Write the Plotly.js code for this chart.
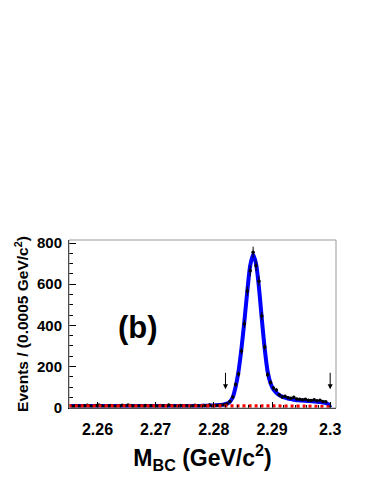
<!DOCTYPE html>
<html>
<head>
<meta charset="utf-8">
<script src="https://cdn.plot.ly/plotly-3.0.1.min.js"></script>
<style>
  html, body { margin: 0; padding: 0; background: #fff; }
  #chart { width: 374px; height: 484px; }
</style>
</head>
<body>
<div id="chart"></div>
<script>
// M_BC spectrum, 0.0005 GeV bins from 2.255 to 2.300
var binLo = 2.255;
var binWidth = 0.0005;

var counts = [
  9, 7, 10, 8, 6, 9, 11, 8, 7, 10,
  12, 9, 7, 8, 10, 8, 6, 9, 11, 8,
  13, 10, 8, 7, 9, 8, 10, 7, 9, 6,
  8, 10, 9, 7, 12, 9, 8, 7, 10, 8,
  9, 7, 8, 11, 9, 8, 10, 9, 12, 8,
  10, 11, 12, 14, 18, 30, 52, 112, 163, 275,
  408, 567, 665, 755, 690, 615, 445, 295, 160, 122,
  95, 85, 62, 52, 55, 48, 45, 50, 42, 40,
  38, 40, 36, 35, 38, 33, 36, 30, 28, 3
];

// total fit (signal + background), at bin centres
var fitTotal = [
  8, 8, 8, 8, 8, 8, 8, 8, 8, 8,
  8, 8, 8, 8, 8, 8, 8, 8, 8, 8,
  8, 8, 8, 8, 8, 8, 8, 8, 8, 8,
  8, 8, 8, 8, 8, 8, 8, 8, 8, 8,
  8, 8, 8, 8, 8, 8, 9, 9, 10, 10,
  11, 12, 13, 15, 19, 28, 50, 102, 178, 288,
  420, 565, 690, 745, 700, 585, 430, 285, 175, 118,
  88, 72, 61, 53, 48, 44, 41, 38, 36, 35,
  34, 33, 32, 31, 30, 28, 27, 25, 22, 15
];
var fitEndX = 2.300;
var fitEndY = 0;

// background (ARGUS-like) component
var bkgX = [2.255, 2.265, 2.275, 2.285, 2.292, 2.296, 2.298, 2.2995, 2.300];
var bkgY = [8, 8, 8, 8, 7, 6, 5, 3, 1];

// signal region markers
var arrowX = [2.282, 2.300];
var arrowY = [89, 89];

var xTickVals = [2.26, 2.27, 2.28, 2.29, 2.30];
var xTickText = ["2.26", "2.27", "2.28", "2.29", "2.3"];
var yTickVals = [0, 200, 400, 600, 800];

var centers = counts.map(function (c, i) { return binLo + binWidth * (i + 0.5); });
var fitX = centers.concat([fitEndX]);
var fitY = fitTotal.concat([fitEndY]);

var fam = "Liberation Sans, Arial, sans-serif";

var data = [
  {
    type: "scatter",
    mode: "lines",
    x: fitX,
    y: fitY,
    line: { color: "#0000ff", width: 4, shape: "spline", smoothing: 0.8 },
    hoverinfo: "skip",
    showlegend: false
  },
  {
    type: "scatter",
    mode: "markers",
    x: centers,
    y: counts,
    marker: { color: "#000", size: 3.5 },
    error_y: { type: "sqrt", color: "#000", thickness: 1, width: 0 },
    showlegend: false
  },
  {
    type: "scatter",
    mode: "lines",
    x: bkgX,
    y: bkgY,
    line: { color: "#ff0000", width: 3.5, dash: "3px,3px", shape: "spline" },
    hoverinfo: "skip",
    showlegend: false
  }
];

var annotations = arrowX.map(function (x, i) {
  return {
    x: x, y: arrowY[i], xref: "x", yref: "y",
    text: "", showarrow: true, ax: 0, ay: -18,
    arrowhead: 2, arrowsize: 1, arrowwidth: 1, arrowcolor: "#000"
  };
});
annotations.push({
  x: 0.258, y: 0.482, xref: "paper", yref: "paper",
  xanchor: "center", yanchor: "middle",
  text: "(b)", showarrow: false,
  font: { family: fam, color: "#000", weight: "bold", size: 31 }
});

var layout = {
  width: 374,
  height: 484,
  margin: { l: 69, r: 38, t: 240, b: 76 },
  paper_bgcolor: "#fff",
  plot_bgcolor: "#fff",
  showlegend: false,
  xaxis: {
    range: [2.2551, 2.301],
    tickvals: xTickVals,
    ticktext: xTickText,
    ticks: "inside",
    ticklen: 6,
    tickcolor: "#000",
    ticklabelstandoff: 7,
    minor: { dtick: 0.002, ticklen: 3, ticks: "inside", tickcolor: "#000" },
    showline: true,
    linecolor: "#000",
    linewidth: 1,
    showgrid: false,
    zeroline: false,
    tickfont: { family: fam, color: "#000", weight: "bold", size: 16 },
    title: {
      text: "M<sub>BC</sub> (GeV/c<sup>2</sup>)",
      font: { family: fam, color: "#000", weight: "bold", size: 23 },
      standoff: 12
    }
  },
  yaxis: {
    range: [-2, 815],
    tickvals: yTickVals,
    ticks: "inside",
    ticklen: 7,
    tickcolor: "#000",
    ticklabelstandoff: 3,
    minor: { dtick: 50, ticklen: 4, ticks: "inside", tickcolor: "#000" },
    showline: true,
    linecolor: "#000",
    linewidth: 1,
    showgrid: false,
    zeroline: false,
    tickfont: { family: fam, color: "#000", weight: "bold", size: 15 },
    title: {
      text: "Events / (0.0005 GeV/c<sup>2</sup>)",
      font: { family: fam, color: "#000", weight: "bold", size: 15.5 },
      standoff: 4
    }
  },
  shapes: [
    {
      type: "rect", xref: "paper", yref: "paper",
      x0: 0, x1: 1, y0: 0, y1: 1,
      line: { color: "#999", width: 1 }
    }
  ],
  annotations: annotations
};

Plotly.newPlot("chart", data, layout, { displayModeBar: false, staticPlot: true });
</script>
</body>
</html>
